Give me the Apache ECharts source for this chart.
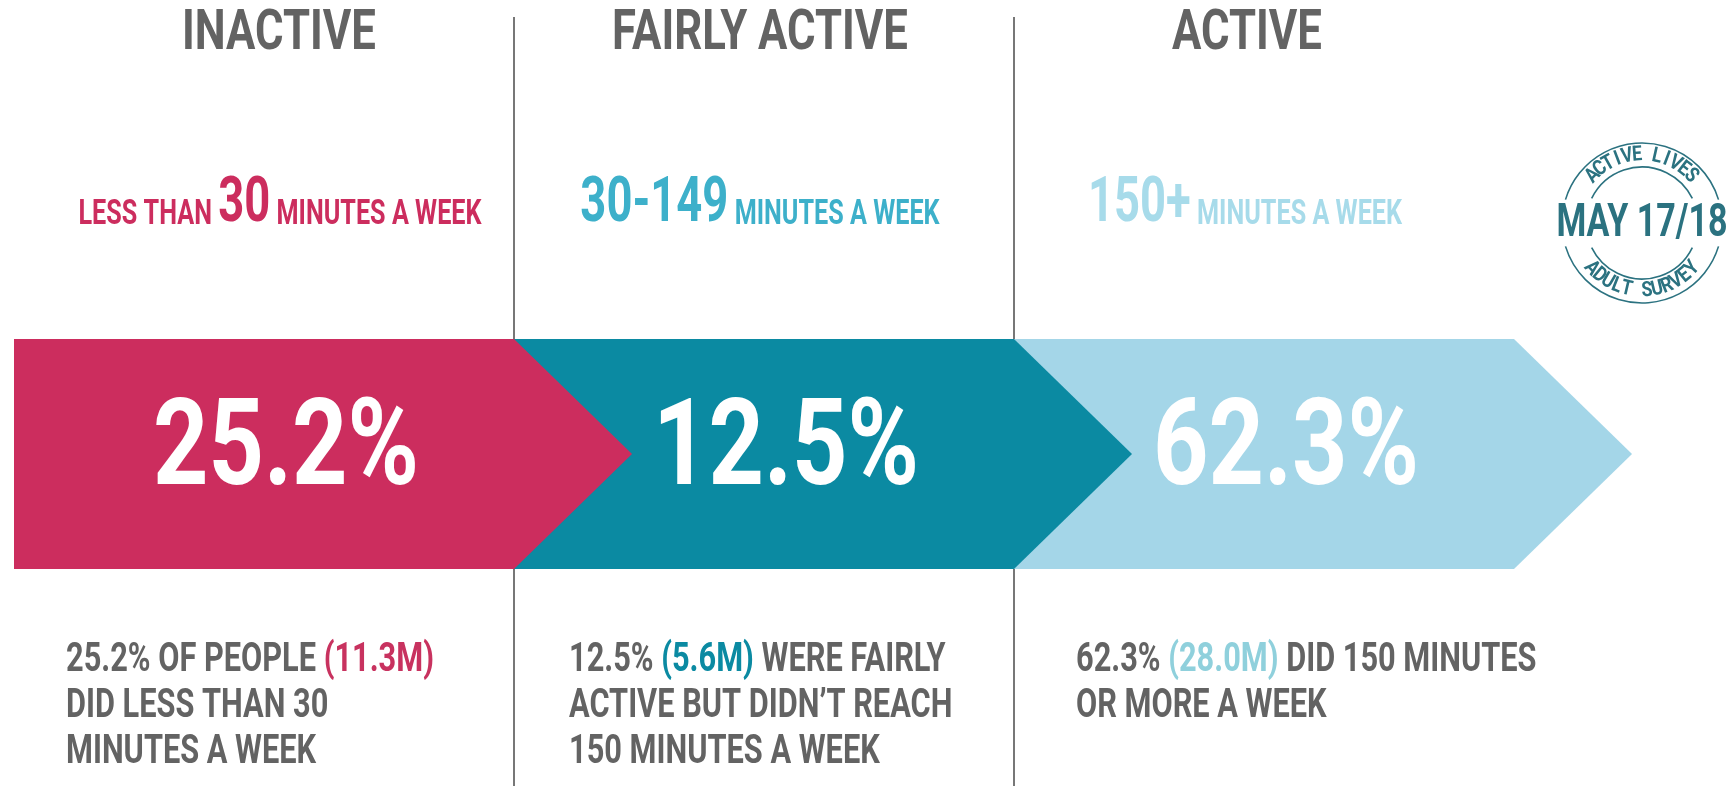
<!DOCTYPE html>
<html>
<head>
<meta charset="utf-8">
<script src="https://cdn.jsdelivr.net/npm/echarts@6/dist/echarts.min.js"></script>
<style>
  html, body { margin: 0; padding: 0; background: #fff; }
  #container { width: 1731px; height: 786px; }
</style>
</head>
<body>
<div id="container"></div>
<script>
// activity levels, Active Lives adult survey May 17/18
var categories = ['INACTIVE', 'FAIRLY ACTIVE', 'ACTIVE'];
var shares = [25.2, 12.5, 62.3];          // % of adults
var people = [11.3, 5.6, 28.0];           // millions
var minuteBands = ['30', '30-149', '150+'];

var fills = ['#CC2D5E', '#0B8AA2', '#A4D6E8'];
var subColors = ['#CC2D5E', '#3DB0CA', '#A7DBEA'];
var bracketColors = ['#C8325F', '#0B8AA2', '#8FD0DC'];
var grey = '#636363';
var badge = '#2B7280';

var dom = document.getElementById('container');
var myChart = echarts.init(dom, null, { renderer: 'canvas' });

var mctx = document.createElement('canvas').getContext('2d');
function fontOf(size) { return 'bold ' + size + 'px Roboto'; }
function measure(t, size) { mctx.font = fontOf(size); return mctx.measureText(t).width; }

var els = [];
function txt(x, y, text, size, color, align, sx, rot) {
  return {
    type: 'text', x: x, y: y, scaleX: sx || 1, rotation: rot || 0, silent: true,
    style: {
      text: text, font: fontOf(size), fill: color,
      align: align, textAlign: align, verticalAlign: 'middle', textVerticalAlign: 'middle'
    }
  };
}
// a line of mixed-size / mixed-colour pieces sharing one baseline
function run(x, base, parts, align, sx) {
  var w = 0;
  parts.forEach(function (p) { p.w = measure(p.t, p.s); w += p.w; });
  var cx = align === 'center' ? x - w * sx / 2 : x;
  parts.forEach(function (p) {
    els.push(txt(cx, base - 0.355 * p.s, p.t, p.s, p.c, 'left', sx));
    cx += p.w * sx;
  });
}

// column titles
var titleX = [279, 760, 1247];
categories.forEach(function (c, i) {
  els.push(txt(titleX[i], 35, c, 56, grey, 'center', 0.78));
});

// minutes a week line
var subX = [280, 760, 1245];
minuteBands.forEach(function (m, i) {
  var parts = [];
  if (i === 0) parts.push({ t: 'LESS THAN ', s: 35, c: subColors[i] });
  parts.push({ t: m, s: 63, c: subColors[i] });
  parts.push({ t: ' MINUTES A WEEK', s: 35, c: subColors[i] });
  run(subX[i], 228, parts, 'center', 0.72);
});

// description under each arrow
var descX = [66, 569, 1076];
var descLines = [
  [[shares[0] + '% OF PEOPLE ', '(' + people[0].toFixed(1) + 'M)', ''], 'DID LESS THAN 30', 'MINUTES A WEEK'],
  [[shares[1] + '% ', '(' + people[1].toFixed(1) + 'M)', ' WERE FAIRLY'], 'ACTIVE BUT DIDN\u2019T REACH', '150 MINUTES A WEEK'],
  [[shares[2] + '% ', '(' + people[2].toFixed(1) + 'M)', ' DID 150 MINUTES'], 'OR MORE A WEEK']
];
descLines.forEach(function (lines, i) {
  lines.forEach(function (ln, k) {
    var base = 675 + k * 46;
    if (Array.isArray(ln)) {
      run(descX[i], base, [
        { t: ln[0], s: 41, c: grey },
        { t: ln[1], s: 41, c: bracketColors[i] },
        { t: ln[2], s: 41, c: grey }
      ], 'left', 0.75);
    } else {
      run(descX[i], base, [{ t: ln, s: 41, c: grey }], 'left', 0.75);
    }
  });
});

// badge
var bx = 1642, by = 223;
function arc(r, a0, a1) {
  return {
    type: 'arc', silent: true,
    shape: { cx: bx, cy: by, r: r, startAngle: a0 * Math.PI / 180, endAngle: a1 * Math.PI / 180, clockwise: true },
    style: { stroke: badge, fill: null, lineWidth: 1.6 }
  };
}
els.push(arc(80, 197, 343), arc(80, 17, 163), arc(56, 206, 334), arc(56, 26, 154));
els.push(txt(bx, 224, 'MAY 17/18', 46, badge, 'center', 0.74));
function curved(str, a0, a1, r, top) {
  var n = str.length;
  for (var k = 0; k < n; k++) {
    var a = a0 + (a1 - a0) * k / (n - 1);
    var rad = a * Math.PI / 180;
    var rot = top ? -(a + 90) : (90 - a);
    els.push(txt(bx + r * Math.cos(rad), by + r * Math.sin(rad), str[k], 21, badge, 'center', 0.85, rot * Math.PI / 180));
  }
}
curved('ACTIVE LIVES', -136, -44, 68, true);
curved('ADULT SURVEY', 138, 42, 68, false);

var option = {
  backgroundColor: '#fff',
  animation: false,
  grid: { left: 14, right: 217, top: 339, height: 230 },
  xAxis: { type: 'category', data: categories, show: false },
  yAxis: { type: 'value', min: 0, max: 100, show: false },
  graphic: els,
  series: [{
    type: 'custom',
    data: shares.map(function (v, i) { return [i, v]; }),
    renderItem: function (params, api) {
      var i = api.value(0);
      var c = api.coord([i, 0]);
      var bw = api.size([1, 0])[0];
      var cs = params.coordSys;
      var x0 = c[0] - bw / 2, x1 = c[0] + bw / 2;
      var y0 = cs.y, y1 = cs.y + cs.height, ym = (y0 + y1) / 2;
      var tip = 118;
      var kids = [{
        type: 'polygon', z2: 10 - i,
        shape: { points: [[x0, y0], [x1, y0], [x1 + tip, ym], [x1, y1], [x0, y1]] },
        style: { fill: fills[i] }
      }, {
        type: 'text', z2: 20, x: c[0] + 22, y: ym, scaleX: 0.8,
        style: {
          text: api.value(1).toFixed(1) + '%', font: fontOf(121), fill: '#fff',
          align: 'center', textAlign: 'center', verticalAlign: 'middle', textVerticalAlign: 'middle'
        }
      }];
      if (i > 0) {
        kids.push({
          type: 'line', z2: 0,
          shape: { x1: x0, y1: 17, x2: x0, y2: api.getHeight() },
          style: { stroke: '#777', lineWidth: 2 }
        });
      }
      return { type: 'group', children: kids };
    }
  }]
};

myChart.setOption(option);
window.addEventListener('resize', myChart.resize);
</script>
</body>
</html>
